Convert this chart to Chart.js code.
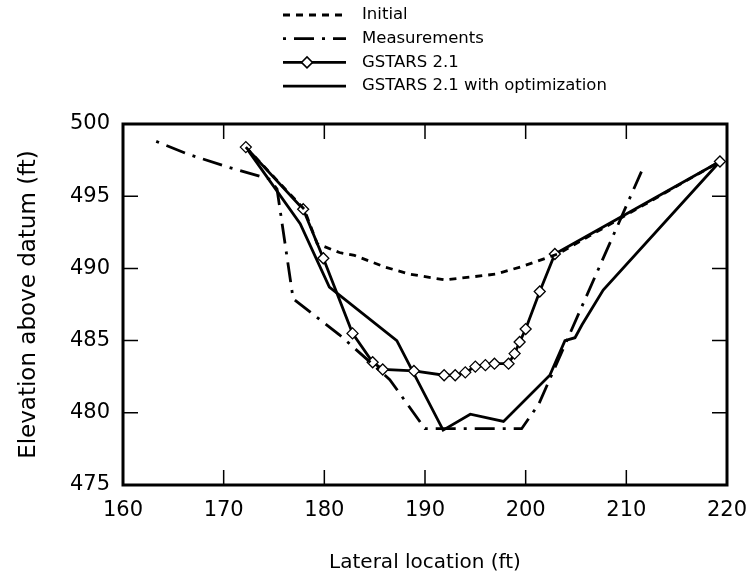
<!DOCTYPE html>
<html>
<head>
<meta charset="utf-8">
<script src="https://cdn.jsdelivr.net/npm/chart.js@4/dist/chart.umd.min.js"></script>
<style>
  body { margin: 0; background: #fff; }
  #wrap { width: 746px; height: 575px; }
</style>
</head>
<body>
<div id="wrap"><canvas id="myChart" width="746" height="575"></canvas></div>
<script>
// Axis ticks
const xTicks = [160, 170, 180, 190, 200, 210, 220];
const yTicks = [475, 480, 485, 490, 495, 500];

// Initial bed profile
const initialX = [172.2, 178.0, 179.3, 181.5, 183.0, 186.0, 188.5, 192.0, 197.0, 199.5, 203.2, 219.3];
const initialY = [498.4, 494.1, 491.7, 491.1, 490.9, 490.1, 489.6, 489.2, 489.6, 490.1, 491.0, 497.4];

// Measurements
const measX = [163.3, 166.5, 170.5, 174.5, 175.3, 176.9, 181.5, 186.5, 190.0, 199.6, 201.3, 211.5];
const measY = [498.8, 497.9, 497.0, 496.2, 495.5, 487.9, 485.4, 482.3, 478.9, 478.9, 480.6, 496.7];

// GSTARS 2.1
const gsX = [172.2, 177.9, 179.9, 182.8, 184.8, 185.8, 188.9, 191.9, 193.0, 194.0, 195.0, 196.0, 196.9, 198.3, 198.9, 199.4, 200.0, 201.4, 202.9, 219.3];
const gsY = [498.4, 494.1, 490.7, 485.5, 483.5, 483.0, 482.9, 482.6, 482.6, 482.8, 483.2, 483.3, 483.4, 483.4, 484.1, 484.9, 485.8, 488.4, 491.0, 497.4];

// GSTARS 2.1 with optimization
const optX = [172.2, 177.6, 180.5, 187.2, 191.8, 194.5, 197.8, 202.4, 203.9, 204.9, 205.6, 207.7, 219.3];
const optY = [498.4, 493.1, 488.7, 485.0, 478.8, 479.9, 479.4, 482.6, 485.0, 485.2, 486.1, 488.5, 497.4];

function pairs(xs, ys) {
    return xs.map((x, i) => ({ x: x, y: ys[i] }));
}

const FONT = "'DejaVu Sans', Verdana, sans-serif";

// frame, inward ticks and the legend block
const frameAndLegend = {
    id: 'frameAndLegend',
    afterDatasetsDraw(chart) {
        const ctx = chart.ctx;
        const a = chart.chartArea;
        const xs = chart.scales.x, ys = chart.scales.y;
        ctx.save();
        ctx.setLineDash([]);
        ctx.strokeStyle = '#000';
        // tick marks pointing inwards
        ctx.lineWidth = 1.5;
        ctx.beginPath();
        xTicks.forEach(v => {
            const px = xs.getPixelForValue(v);
            ctx.moveTo(px, a.bottom); ctx.lineTo(px, a.bottom - 15);
            ctx.moveTo(px, a.top); ctx.lineTo(px, a.top + 15);
        });
        yTicks.forEach(v => {
            const py = ys.getPixelForValue(v);
            ctx.moveTo(a.left, py); ctx.lineTo(a.left + 15, py);
            ctx.moveTo(a.right, py); ctx.lineTo(a.right - 15, py);
        });
        ctx.stroke();
        // frame
        ctx.lineWidth = 3;
        ctx.strokeRect(a.left, a.top, a.right - a.left, a.bottom - a.top);
        ctx.restore();
    },
    afterDraw(chart) {
        const ctx = chart.ctx;
        ctx.save();
        ctx.font = '16.5px ' + FONT;
        ctx.fillStyle = '#000';
        ctx.textBaseline = 'middle';
        chart.data.datasets.forEach((ds, i) => {
            const y = 15 + i * 23.7;
            ctx.strokeStyle = '#000';
            ctx.lineWidth = ds.borderWidth;
            ctx.setLineDash(ds.borderDash || []);
            ctx.beginPath();
            ctx.moveTo(283, y);
            ctx.lineTo(346, y);
            ctx.stroke();
            if (ds.pointRadius > 0) {
                ctx.setLineDash([]);
                ctx.lineWidth = 1.5;
                ctx.fillStyle = '#fff';
                ctx.beginPath();
                ctx.moveTo(307, y - 5.5);
                ctx.lineTo(312.5, y);
                ctx.lineTo(307, y + 5.5);
                ctx.lineTo(301.5, y);
                ctx.closePath();
                ctx.fill();
                ctx.stroke();
                ctx.fillStyle = '#000';
            }
            ctx.fillText(ds.label, 362, y);
        });
        ctx.restore();
    }
};

const ctx = document.querySelector('#myChart').getContext('2d');
const myChart = new Chart(ctx, {
    type: 'line',
    data: {
        datasets: [{
            label: 'Initial',
            data: pairs(initialX, initialY),
            borderColor: '#000',
            borderWidth: 2.8,
            borderDash: [7, 6],
            pointRadius: 0,
            fill: false
        }, {
            label: 'Measurements',
            data: pairs(measX, measY),
            borderColor: '#000',
            borderWidth: 2.8,
            borderDash: [3, 8, 20, 8],
            pointRadius: 0,
            fill: false
        }, {
            label: 'GSTARS 2.1',
            data: pairs(gsX, gsY),
            borderColor: '#000',
            borderWidth: 2.8,
            pointStyle: 'rectRot',
            pointRadius: 5.5,
            pointBackgroundColor: '#fff',
            pointBorderColor: '#000',
            pointBorderWidth: 1.3,
            fill: false
        }, {
            label: 'GSTARS 2.1 with optimization',
            data: pairs(optX, optY),
            borderColor: '#000',
            borderWidth: 2.8,
            pointRadius: 0,
            fill: false
        }]
    },
    options: {
        responsive: false,
        animation: false,
        devicePixelRatio: 1,
        layout: { padding: { top: 124, right: 19, left: 0, bottom: 0 } },
        plugins: {
            legend: { display: false },
            tooltip: { enabled: false }
        },
        scales: {
            x: {
                type: 'linear',
                min: 160,
                max: 220,
                afterBuildTicks: (scale) => { scale.ticks = xTicks.map(v => ({ value: v })); },
                afterFit: (scale) => { scale.height = 90; scale.paddingLeft = 0; scale.paddingRight = 0; },
                grid: { display: false, drawTicks: false },
                border: { display: false },
                ticks: { color: '#000', padding: 13, font: { family: FONT, size: 21 } },
                title: {
                    display: true,
                    text: 'Lateral location (ft)',
                    color: '#000',
                    font: { family: FONT, size: 20 },
                    padding: { top: 0, bottom: 0 }
                }
            },
            y: {
                min: 475,
                max: 500,
                afterBuildTicks: (scale) => { scale.ticks = yTicks.map(v => ({ value: v })); },
                afterFit: (scale) => { scale.width = 123; },
                grid: { display: false, drawTicks: false },
                border: { display: false },
                ticks: { color: '#000', padding: 13, font: { family: FONT, size: 21 } },
                title: {
                    display: true,
                    text: 'Elevation above datum (ft)',
                    color: '#000',
                    font: { family: FONT, size: 23 },
                    padding: { top: 15, bottom: 0 }
                }
            }
        }
    },
    plugins: [frameAndLegend]
});
</script>
</body>
</html>
